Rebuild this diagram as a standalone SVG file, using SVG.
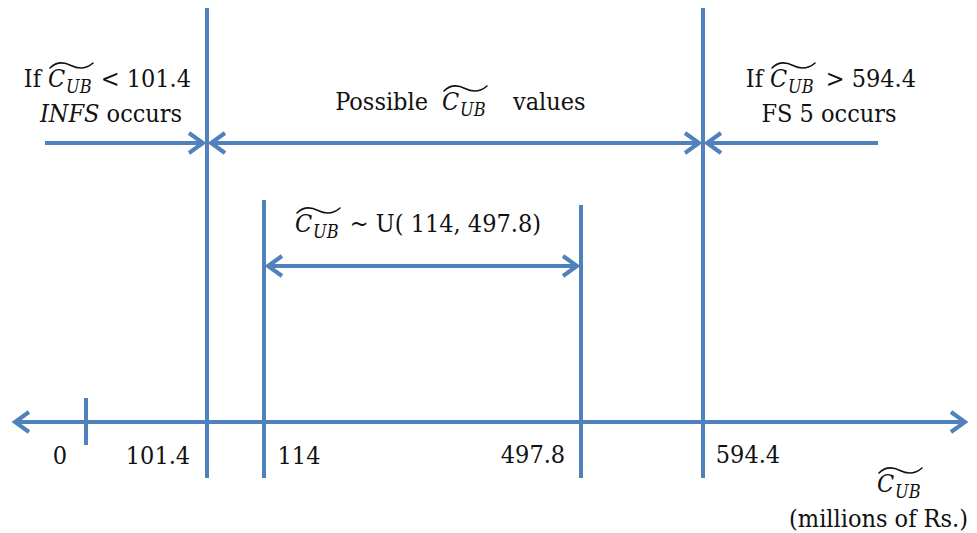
<svg xmlns="http://www.w3.org/2000/svg" width="977" height="533" viewBox="0 0 977 533">
<style>
.ln{stroke:#4F81BD;stroke-width:4;fill:none}
.ar{marker-end:url(#ah)}
.da{marker-start:url(#ah);marker-end:url(#ah)}
.t{font-family:'DejaVu Serif Condensed','DejaVu Serif','Liberation Serif',serif;font-size:25px;fill:#111}
.it{font-style:italic}
.sub{font-style:italic;font-size:18px}
.m{text-anchor:middle}
.e{text-anchor:end}
.tl{fill:none;stroke:#111;stroke-width:1.6;stroke-linecap:round}
</style>
<defs>
<marker id="ah" viewBox="-20 -14 24 28" markerWidth="24" markerHeight="28" refX="0" refY="0" orient="auto-start-reverse" markerUnits="userSpaceOnUse">
<path d="M-14,-10 L0,0 L-14,10" fill="none" stroke="#4F81BD" stroke-width="4"/>
</marker>
<path id="tilde" d="M0,6 C7,-1 14,0 21,3.5 S35,8 43,1"/>
</defs>
<g id="connectors">
<line class="ln" x1="207" y1="8" x2="207" y2="478"/>
<line class="ln" x1="703" y1="8" x2="703" y2="478"/>
<line class="ln" x1="264" y1="200" x2="264" y2="478"/>
<line class="ln" x1="581" y1="205" x2="581" y2="478"/>
<line class="ln" x1="86" y1="398" x2="86" y2="445"/>
<line class="ln ar" x1="45" y1="143" x2="203" y2="143"/>
<line class="ln da" x1="211" y1="143" x2="699" y2="143"/>
<line class="ln ar" x1="878" y1="143" x2="707" y2="143"/>
<line class="ln da" x1="268" y1="266" x2="577" y2="266"/>
<line class="ln da" x1="15" y1="422" x2="965" y2="422"/>
</g>
<g id="left-label">
<text class="t e" x="41" y="87">If</text>
<text class="t it" x="48" y="87">C</text>
<text class="t sub" x="66" y="93">UB</text>
<use href="#tilde" class="tl" x="50" y="62"/>
<text class="t e" x="191" y="87">&lt; 101.4</text>
<text class="t m" x="111" y="122"><tspan class="it">INFS</tspan> occurs</text>
</g>
<g id="middle-label">
<text class="t e" x="428" y="110">Possible</text>
<text class="t it" x="442" y="110">C</text>
<text class="t sub" x="460" y="116">UB</text>
<use href="#tilde" class="tl" x="444" y="85"/>
<text class="t" x="513" y="110">values</text>
</g>
<g id="right-label">
<text class="t e" x="763" y="87">If</text>
<text class="t it" x="770" y="87">C</text>
<text class="t sub" x="788" y="93">UB</text>
<use href="#tilde" class="tl" x="772" y="62"/>
<text class="t e" x="916" y="87">&gt; 594.4</text>
<text class="t m" x="829" y="122">FS 5 occurs</text>
</g>
<g id="dist-label">
<text class="t it" x="295" y="232">C</text>
<text class="t sub" x="313" y="238">UB</text>
<use href="#tilde" class="tl" x="297" y="207"/>
<text class="t e" x="541" y="232">~ U( 114, 497.8)</text>
</g>
<g id="axis-labels">
<text class="t m" x="60" y="464">0</text>
<text class="t m" x="158" y="464">101.4</text>
<text class="t m" x="299" y="464">114</text>
<text class="t m" x="533" y="463">497.8</text>
<text class="t m" x="748" y="463">594.4</text>
<text class="t it" x="877" y="492">C</text>
<text class="t sub" x="895" y="498">UB</text>
<use href="#tilde" class="tl" x="879" y="467"/>
<text class="t e" x="968" y="527">(millions of Rs.)</text>
</g>
</svg>
